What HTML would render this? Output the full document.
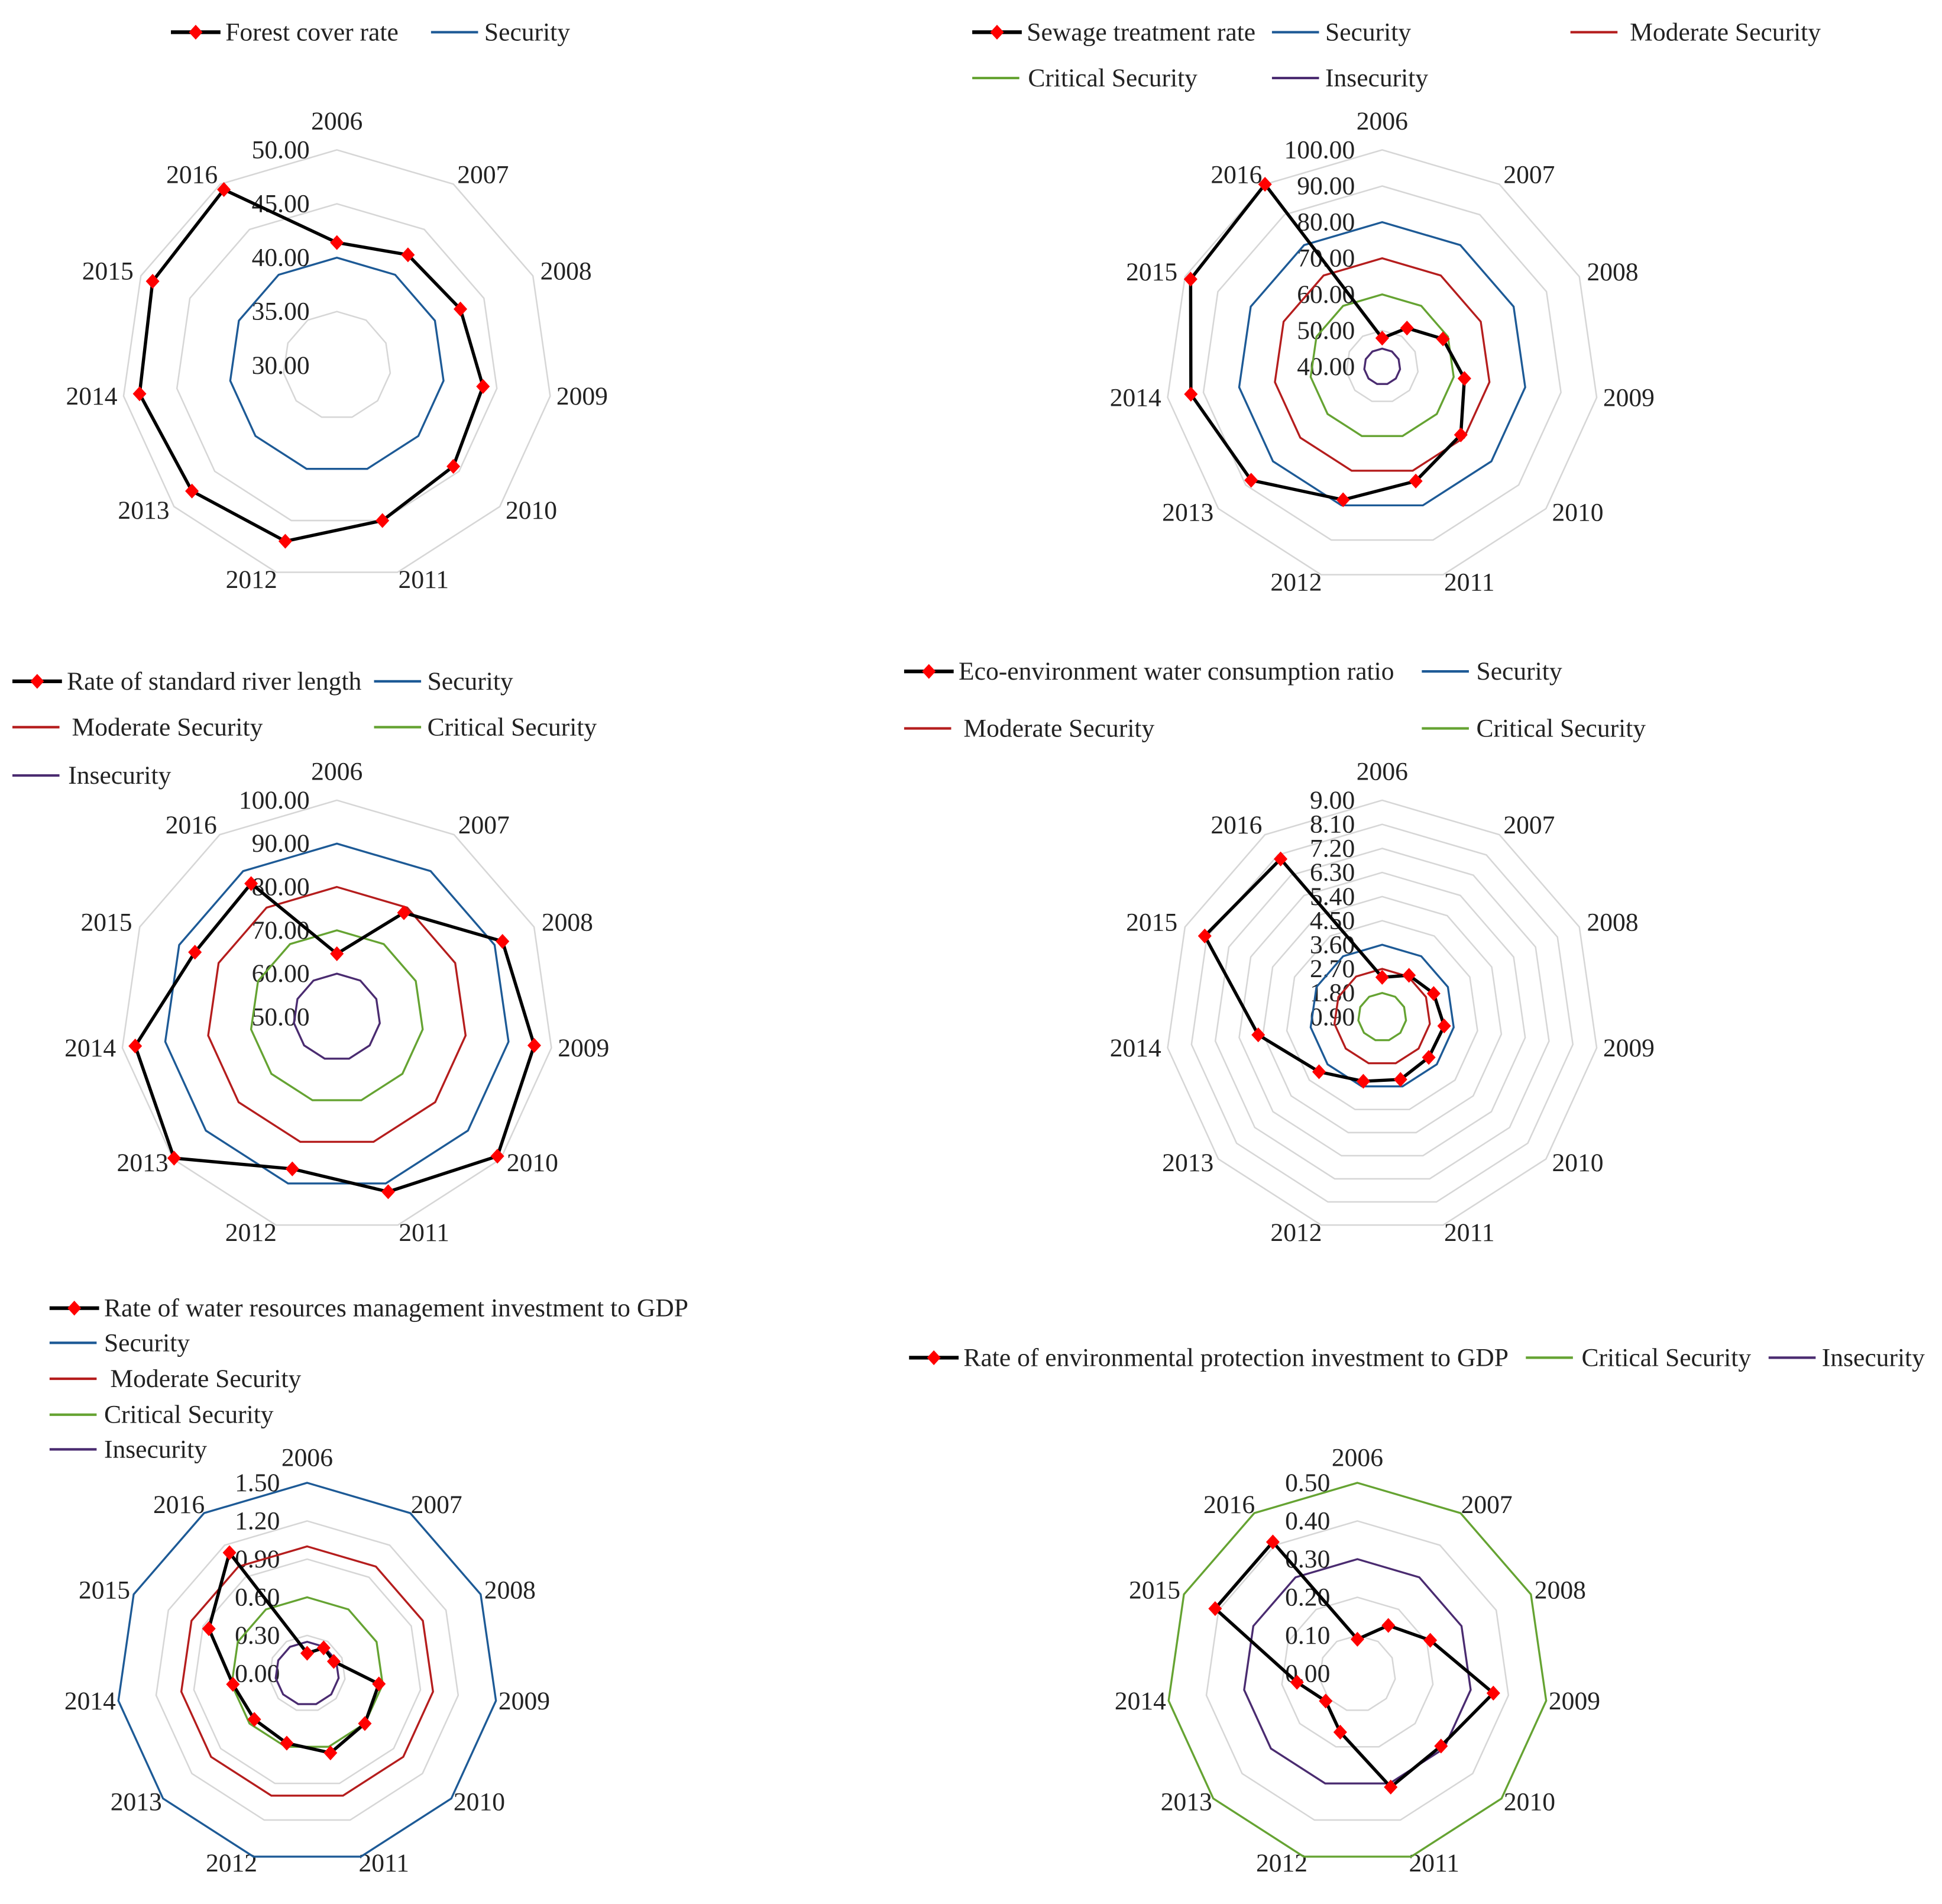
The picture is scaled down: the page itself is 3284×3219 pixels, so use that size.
<!DOCTYPE html>
<html><head><meta charset="utf-8"><style>
html,body{margin:0;padding:0;background:#fff;}
svg{display:block;}
text{font-family:"Liberation Serif",serif;fill:#222;}
</style></head><body>
<svg id="fig" xmlns="http://www.w3.org/2000/svg" width="3284" height="3219" viewBox="0 0 1568 1537"></svg>
<script>
const years = ["2006","2007","2008","2009","2010","2011","2012","2013","2014","2015","2016"];
const forestValues = [41.4,42.2,42.6,43.7,44.3,45.0,47.0,47.8,48.5,48.8,49.4];
const sewageValues = [47.9,52.7,58.5,63.0,68.8,73.0,78.4,88.0,93.5,98.3,100.0];
const riverValues = [64.6,78.6,92.0,96.0,99.0,92.0,86.5,99.7,97.0,86.0,86.6];
const ecoValues = [1.65,2.06,2.35,2.6,2.56,2.7,2.78,3.47,5.2,8.1,7.8];
const waterInvValues = [0.16,0.24,0.23,0.57,0.6,0.65,0.57,0.55,0.59,0.85,1.13];
const envInvValues = [0.09,0.15,0.21,0.36,0.29,0.31,0.16,0.11,0.16,0.41,0.41];
const forestTicks = ["50.00","45.00","40.00","35.00","30.00"];
const sewageTicks = ["100.00","90.00","80.00","70.00","60.00","50.00","40.00"];
const riverTicks = ["100.00","90.00","80.00","70.00","60.00","50.00"];
const ecoTicks = ["9.00","8.10","7.20","6.30","5.40","4.50","3.60","2.70","1.80","0.90"];
const waterInvTicks = ["1.50","1.20","0.90","0.60","0.30","0.00"];
const envInvTicks = ["0.50","0.40","0.30","0.20","0.10","0.00"];
const forestLevels = [40];
const sewageLevels = [80,70,60,45];
const riverLevels = [90,80,70,60];
const ecoLevels = [3,2,1];
const waterInvLevels = [1.5,1.0,0.6,0.25];
const envInvLevels = [0.5,0.3];

const NS="http://www.w3.org/2000/svg";
const svg=document.getElementById('fig');
const COL={Security:"#1d5a96",Moderate:"#b51d1d",Critical:"#65a332",Insecurity:"#4a2b70"};
const LOFF=[[0,-197],[118,-154],[185,-76],[198,25],[157,117],[70,173],[-69,173],[-156,117],[-198,25],[-185,-76],[-117,-154]];
const FS=20.8;
function mk(tag,attrs,parent){const e=document.createElementNS(NS,tag);for(const k in attrs)e.setAttribute(k,attrs[k]);(parent||svg).appendChild(e);return e;}
function txt(x,y,s,anchor,parent){const t=mk('text',{x:x,y:y,'font-size':FS,'text-anchor':anchor||'start','dominant-baseline':'central'},parent);t.textContent=s;return t;}
function pt(c,v,i){const r=(v-c.min)/(c.max-c.min)*c.R;const a=i*2*Math.PI/years.length;return [c.cx+r*Math.sin(a),c.cy-r*Math.cos(a)];}
function poly(c,vals){return vals.map((v,i)=>pt(c,v,i).map(n=>n.toFixed(2)).join(',')).join(' ');}

function drawChart(c){
  const g=mk('g',{});
  
  
  for(let k=1;k<=c.rings;k++){
    const v=c.min+(c.max-c.min)*k/c.rings;
    const p=mk('polygon',{points:poly(c,years.map(()=>v)),fill:'none',stroke:'#d6d6d6','stroke-width':1.2},g);
    
    
  }
  const nt=c.ticks.length;
  c.ticks.forEach((s,k)=>{
    const y=c.cy-c.R+k*c.R/(nt-1);
    const t=txt(c.cx-22,y,s,'end',g);
    
    
  });
  const sc=c.R/174;
  years.forEach((yr,i)=>{
    const t=txt(c.cx+LOFF[i][0]*sc,c.cy+LOFF[i][1]*sc,yr,'middle',g);
    
    
  });
  c.levels.forEach((v,j)=>{
    const p=mk('polygon',{points:poly(c,years.map(()=>v)),fill:'none',stroke:COL[c.levelNames[j]],'stroke-width':1.6},g);
    
    
  });
  const pts=c.values.map((v,i)=>pt(c,v,i));
  const line=mk('polygon',{points:poly(c,c.values),fill:'none',stroke:'#000','stroke-width':2.6,'stroke-linejoin':'round'},g);
  
  
  pts.forEach(p=>{
    const d=mk('polygon',{points:`${p[0]},${p[1]-6} ${p[0]+5.5},${p[1]} ${p[0]},${p[1]+6} ${p[0]-5.5},${p[1]}`,fill:'#f00'},g);
    
    
  });
  c.legend.forEach(L=>{
    const lg=mk('g',{},g);
    
    
    if(L.main){
      mk('line',{x1:L.x,y1:L.y,x2:L.x+40,y2:L.y,stroke:'#000','stroke-width':3},lg);
      mk('polygon',{points:`${L.x+20},${L.y-6} ${L.x+25.5},${L.y} ${L.x+20},${L.y+6} ${L.x+14.5},${L.y}`,fill:'#f00'},lg);
      txt(L.x+44,L.y,L.t,'start',lg);
    } else {
      mk('line',{x1:L.x,y1:L.y,x2:L.x+38,y2:L.y,stroke:COL[L.c],'stroke-width':2},lg);
      txt(L.tx||L.x+44,L.y,L.t,'start',lg);
    }
  });
}

drawChart({name:'forest-cover-chart',cx:272,cy:295,R:174,min:30,max:50,rings:4,ticks:forestTicks,values:forestValues,levels:forestLevels,levelNames:['Security'],
 legend:[{main:1,x:138,y:26,t:'Forest cover rate'},{x:348,y:26,t:'Security',c:'Security',tx:391}]});
drawChart({name:'sewage-treatment-chart',cx:1116,cy:296,R:175,min:40,max:100,rings:6,ticks:sewageTicks,values:sewageValues,levels:sewageLevels,levelNames:['Security','Moderate','Critical','Insecurity'],
 legend:[{main:1,x:785,y:26,t:'Sewage treatment rate'},{x:1027,y:26,t:'Security',c:'Security',tx:1070},{x:1268,y:26,t:'Moderate Security',c:'Moderate',tx:1316},{x:785,y:63,t:'Critical Security',c:'Critical',tx:830},{x:1027,y:63,t:'Insecurity',c:'Insecurity',tx:1070}]});
drawChart({name:'standard-river-chart',cx:272,cy:821,R:175,min:50,max:100,rings:5,ticks:riverTicks,values:riverValues,levels:riverLevels,levelNames:['Security','Moderate','Critical','Insecurity'],
 legend:[{main:1,x:10,y:550,t:'Rate of standard river length'},{x:302,y:550,t:'Security',c:'Security',tx:345},{x:10,y:587,t:'Moderate Security',c:'Moderate',tx:58},{x:302,y:587,t:'Critical Security',c:'Critical',tx:345},{x:10,y:626,t:'Insecurity',c:'Insecurity',tx:55}]});
drawChart({name:'eco-water-chart',cx:1116,cy:821,R:175,min:0,max:9,rings:9,ticks:ecoTicks,values:ecoValues,levels:ecoLevels,levelNames:['Security','Moderate','Critical'],
 legend:[{main:1,x:730,y:542,t:'Eco-environment water consumption ratio'},{x:1148,y:542,t:'Security',c:'Security',tx:1192},{x:730,y:588,t:'Moderate Security',c:'Moderate',tx:778},{x:1148,y:588,t:'Critical Security',c:'Critical',tx:1192}]});
drawChart({name:'water-investment-chart',cx:248,cy:1351,R:154,min:0,max:1.5,rings:5,ticks:waterInvTicks,values:waterInvValues,levels:waterInvLevels,levelNames:['Security','Moderate','Critical','Insecurity'],
 legend:[{main:1,x:40,y:1056,t:'Rate of water resources management investment to GDP'},{x:40,y:1084,t:'Security',c:'Security',tx:84},{x:40,y:1113,t:'Moderate Security',c:'Moderate',tx:89},{x:40,y:1142,t:'Critical Security',c:'Critical',tx:84},{x:40,y:1170,t:'Insecurity',c:'Insecurity',tx:84}]});
drawChart({name:'env-investment-chart',cx:1096,cy:1351,R:154,min:0,max:0.5,rings:5,ticks:envInvTicks,values:envInvValues,levels:envInvLevels,levelNames:['Critical','Insecurity'],
 legend:[{main:1,x:734,y:1096,t:'Rate of environmental protection investment to GDP'},{x:1232,y:1096,t:'Critical Security',c:'Critical',tx:1277},{x:1428,y:1096,t:'Insecurity',c:'Insecurity',tx:1471}]});
</script>
</body></html>
